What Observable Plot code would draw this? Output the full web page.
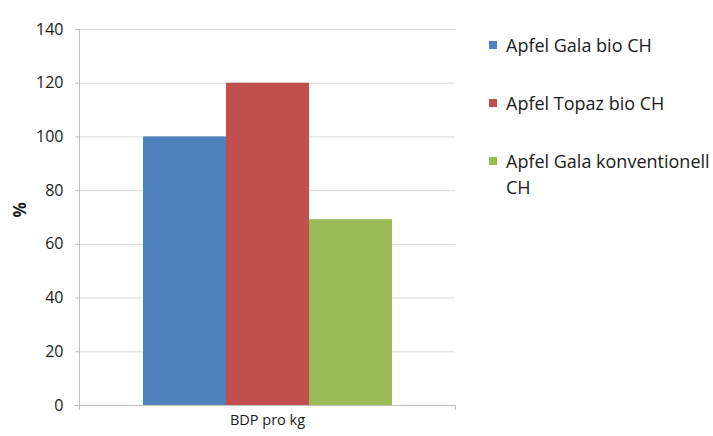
<!DOCTYPE html>
<html><head><meta charset="utf-8">
<script src="https://cdn.jsdelivr.net/npm/d3@7"></script>
<script src="https://cdn.jsdelivr.net/npm/@observablehq/plot@0.6"></script>
<style>
body{margin:0;background:#fff;font-family:"Open Sans",sans-serif;}
#wrap{position:relative;width:713px;height:436px;}
.leg{position:absolute;left:489px;font-size:18px;color:#1a1a1a;line-height:26px;}
.leg .sw{position:absolute;left:0;top:9px;width:8px;height:8px;}
.leg .tx{position:absolute;left:17px;top:0;width:205px;white-space:normal;}
</style></head>
<body><div id="wrap"></div>
<script>
const category = "BDP pro kg";
const series = ["Apfel Gala bio CH","Apfel Topaz bio CH","Apfel Gala konventionell CH"];
const values = [100, 120, 69.2];
const colors = ["#4f81bd","#c0504d","#9bbb59"];
const yTicks = [0,20,40,60,80,100,120,140];

const data = series.map((s,i)=>({series:s, value:values[i]}));

const chart = Plot.plot({
  width:713, height:436,
  marginLeft:79, marginRight:258, marginTop:29, marginBottom:31,
  style:{fontFamily:"Open Sans, sans-serif", fontSize:"16px", color:"#1a1a1a", background:"#fff"},
  x:{type:"band", domain:series, paddingInner:0, paddingOuter:0.765, axis:null},
  y:{domain:[0,140], ticks:yTicks, label:null},
  color:{domain:series, range:colors},
  marks:[
    Plot.gridY(yTicks.filter(d=>d>0), {stroke:"#d9d9d9", strokeOpacity:1}),
    Plot.barY(data, {x:"series", y:"value", fill:"series"}),
    Plot.ruleY([0], {stroke:"#bfbfbf"}),
    Plot.axisY({ticks:yTicks, tickSize:4, tickPadding:12, stroke:"#bfbfbf", label:null, fontSize:16, fill:"#1a1a1a"}),
    Plot.text([category], {frameAnchor:"bottom", dy:19, text:d=>d, fontSize:14.5, fill:"#1a1a1a"}),
    Plot.text(["%"], {frameAnchor:"left", dx:-59, rotate:-90, text:d=>d, fontSize:17, fontWeight:"bold", fill:"#1a1a1a"})
  ]
});
document.getElementById("wrap").appendChild(chart);

const svg = d3.select(chart);
const g = svg.append("g").attr("stroke","#bfbfbf").attr("shape-rendering","crispEdges");
g.append("line").attr("x1",79.5).attr("x2",79.5).attr("y1",29).attr("y2",410);
g.append("line").attr("x1",455.5).attr("x2",455.5).attr("y1",405).attr("y2",410);

const legTops = [32, 90, 148];
series.forEach((s,i)=>{
  const d = document.createElement("div");
  d.className="leg"; d.style.top = legTops[i]+"px";
  d.innerHTML = `<div class="sw" style="background:${colors[i]}"></div><div class="tx">${s}</div>`;
  document.getElementById("wrap").appendChild(d);
});
</script></body></html>
